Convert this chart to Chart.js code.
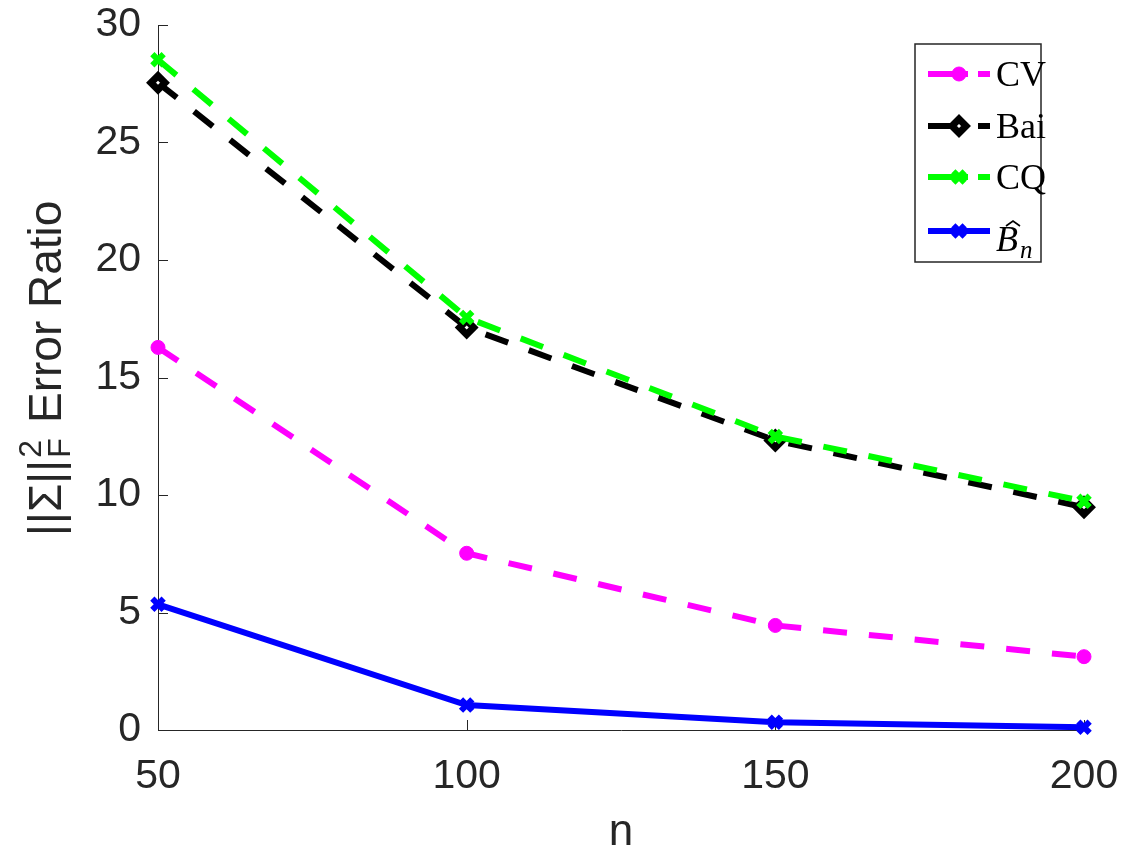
<!DOCTYPE html>
<html>
<head>
<meta charset="utf-8">
<script src="https://cdn.jsdelivr.net/npm/chart.js@4.4.0/dist/chart.umd.min.js"></script>
<style>
    html, body { margin: 0; padding: 0; background: #fff; }
</style>
</head>
<body>
<canvas id="errChart" width="1121" height="859"></canvas>
<script>
const nValues = [50, 100, 150, 200];
const cvRatio = [16.28, 7.52, 4.45, 3.12];
const baiRatio = [27.54, 17.13, 12.32, 9.48];
const cqRatio = [28.52, 17.55, 12.49, 9.73];
const bnRatio = [5.35, 1.06, 0.33, 0.12];
const seriesNames = ['CV', 'Bai', 'CQ', 'Bn'];

const axisColor = '#262626';
const sansFont = '"Liberation Sans", Arial, Helvetica, sans-serif';
const serifFont = '"Liberation Serif", "Times New Roman", serif';

function toPoints(values) {
    return nValues.map((n, i) => ({x: n, y: values[i]}));
}

// MATLAB style ticks pointing into the axes
const innerTicks = {
    id: 'innerTicks',
    beforeDatasetsDraw(chart) {
        const {ctx, chartArea, scales} = chart;
        ctx.save();
        ctx.strokeStyle = axisColor;
        ctx.lineWidth = 1;
        ctx.beginPath();
        scales.x.ticks.forEach(t => {
            const px = Math.round(scales.x.getPixelForValue(t.value)) + 0.5;
            ctx.moveTo(px, chartArea.bottom);
            ctx.lineTo(px, chartArea.bottom - 10);
        });
        scales.y.ticks.forEach(t => {
            const py = Math.round(scales.y.getPixelForValue(t.value)) + 0.5;
            ctx.moveTo(chartArea.left, py);
            ctx.lineTo(chartArea.left + 10, py);
        });
        ctx.stroke();
        ctx.restore();
    }
};

// y label with the norm, superscript 2 and subscript F
const yTitle = {
    id: 'yTitle',
    afterDraw(chart) {
        const ctx = chart.ctx;
        ctx.save();
        ctx.translate(61, 0);
        ctx.rotate(-Math.PI / 2);
        ctx.fillStyle = axisColor;
        ctx.textBaseline = 'alphabetic';
        ctx.textAlign = 'left';
        ctx.font = '46px ' + sansFont;
        ctx.fillText('||Σ||', -536, 0);
        const w = ctx.measureText('||Σ||').width;
        ctx.font = '32px ' + sansFont;
        ctx.fillText('2', -536 + w + 2, -20);
        ctx.fillText('F', -536 + w + 2, 9);
        ctx.font = '46px ' + sansFont;
        ctx.fillText('Error Ratio', -423, 0);
        ctx.restore();
    }
};

function drawMarker(ctx, ds, x, y) {
    const r = ds.pointRadius;
    ctx.save();
    ctx.setLineDash([]);
    ctx.lineWidth = ds.pointBorderWidth;
    ctx.strokeStyle = ds.pointBorderColor;
    ctx.fillStyle = ds.pointBackgroundColor;
    ctx.beginPath();
    if (ds.pointStyle === 'circle') {
        ctx.arc(x, y, r, 0, Math.PI * 2);
        ctx.fill();
        ctx.stroke();
    } else if (ds.pointStyle === 'rectRot') {
        ctx.moveTo(x, y - r);
        ctx.lineTo(x + r, y);
        ctx.lineTo(x, y + r);
        ctx.lineTo(x - r, y);
        ctx.closePath();
        ctx.fill();
        ctx.stroke();
    } else {
        const d = r * Math.SQRT1_2;
        ctx.moveTo(x - d, y - d);
        ctx.lineTo(x + d, y + d);
        ctx.moveTo(x + d, y - d);
        ctx.lineTo(x - d, y + d);
        ctx.stroke();
    }
    ctx.restore();
}

const boxLegend = {
    id: 'boxLegend',
    afterDraw(chart) {
        const ctx = chart.ctx;
        const rows = [74, 126, 177, 231];
        ctx.save();
        ctx.fillStyle = '#fff';
        ctx.fillRect(915, 44, 126, 218);
        ctx.strokeStyle = axisColor;
        ctx.lineWidth = 1.5;
        ctx.strokeRect(915, 44, 126, 218);
        chart.data.datasets.forEach((ds, i) => {
            const y = rows[i];
            ctx.save();
            ctx.strokeStyle = ds.borderColor;
            ctx.lineWidth = ds.borderWidth;
            ctx.setLineDash(ds.borderDash && ds.borderDash.length ? [40, 10, 12, 100] : []);
            ctx.beginPath();
            ctx.moveTo(928, y);
            ctx.lineTo(990, y);
            ctx.stroke();
            ctx.restore();
            drawMarker(ctx, ds, 959, y);

            ctx.fillStyle = '#000';
            ctx.textBaseline = 'alphabetic';
            if (ds.label === 'Bn') {
                ctx.font = 'italic 36px ' + serifFont;
                ctx.fillText('B', 996, y + 20);
                ctx.strokeStyle = '#000';
                ctx.lineWidth = 1.6;
                ctx.beginPath();
                ctx.moveTo(1006, y - 5);
                ctx.lineTo(1013, y - 10);
                ctx.lineTo(1020, y - 5);
                ctx.stroke();
                ctx.font = 'italic 25px ' + serifFont;
                ctx.fillText('n', 1020, y + 27);
            } else {
                ctx.font = '36px ' + serifFont;
                ctx.fillText(ds.label, 996, y + 12);
            }
        });
        ctx.restore();
    }
};

const ctx = document.getElementById('errChart').getContext('2d');
const chart = new Chart(ctx, {
    type: 'line',
    data: {
        datasets: [{
            label: seriesNames[0],
            data: toPoints(cvRatio),
            borderColor: '#ff00ff',
            borderWidth: 6,
            borderDash: [24, 22],
            pointStyle: 'circle',
            pointRadius: 7,
            pointBackgroundColor: '#ff00ff',
            pointBorderColor: '#ff00ff',
            pointBorderWidth: 1,
            order: 4
        }, {
            label: seriesNames[1],
            data: toPoints(baiRatio),
            borderColor: '#000000',
            borderWidth: 6,
            borderDash: [24, 22],
            pointStyle: 'rectRot',
            pointRadius: 7,
            pointBackgroundColor: '#ffffff',
            pointBorderColor: '#000000',
            pointBorderWidth: 7,
            order: 3
        }, {
            label: seriesNames[2],
            data: toPoints(cqRatio),
            borderColor: '#00ff00',
            borderWidth: 6,
            borderDash: [24, 22],
            pointStyle: 'crossRot',
            pointRadius: 8,
            pointBackgroundColor: '#00ff00',
            pointBorderColor: '#00ff00',
            pointBorderWidth: 6,
            order: 2
        }, {
            label: seriesNames[3],
            data: toPoints(bnRatio),
            borderColor: '#0000ff',
            borderWidth: 6,
            pointStyle: 'crossRot',
            pointRadius: 8,
            pointBackgroundColor: '#0000ff',
            pointBorderColor: '#0000ff',
            pointBorderWidth: 6,
            order: 1
        }]
    },
    options: {
        responsive: false,
        animation: false,
        clip: false,
        layout: {padding: {top: 25, right: 37, bottom: 0, left: 0}},
        plugins: {
            legend: {display: false},
            tooltip: {enabled: false}
        },
        elements: {line: {tension: 0, fill: false}},
        scales: {
            x: {
                type: 'linear',
                min: 50, max: 200,
                ticks: {stepSize: 50, color: axisColor, padding: 22, font: {family: sansFont, size: 41}},
                grid: {display: false, drawTicks: false},
                border: {display: true, color: axisColor, width: 1},
                title: {display: true, text: 'n', color: axisColor, padding: {top: 0, bottom: 0}, font: {family: sansFont, size: 44}},
                afterFit: scale => {
                    scale.height = 129;
                    scale.paddingLeft = 0;
                    scale.paddingRight = 0;
                }
            },
            y: {
                min: 0, max: 30,
                ticks: {stepSize: 5, color: axisColor, padding: 17, font: {family: sansFont, size: 41}},
                grid: {display: false, drawTicks: false},
                border: {display: true, color: axisColor, width: 1},
                afterFit: scale => {
                    scale.width = 158;
                    scale.paddingTop = 0;
                    scale.paddingBottom = 0;
                }
            }
        }
    },
    plugins: [innerTicks, yTitle, boxLegend]
});
</script>
</body>
</html>
